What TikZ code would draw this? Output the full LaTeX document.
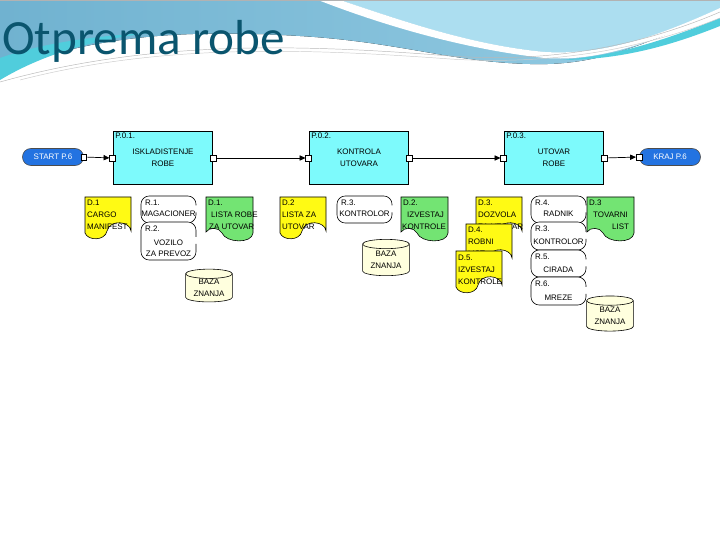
\documentclass[tikz,border=0pt]{standalone}
\usepackage{fontspec}
\setsansfont{Liberation Sans}
\newfontfamily\titlefont{Carlito}
\usetikzlibrary{arrows.meta,positioning,shapes.geometric,calc}
\definecolor{boxcyan}{RGB}{125,250,252}
\definecolor{termblue}{RGB}{35,115,225}
\definecolor{docyellow}{RGB}{255,250,20}
\definecolor{docgreen}{RGB}{115,228,115}
\definecolor{kbcream}{RGB}{255,255,222}
\definecolor{titleteal}{RGB}{10,85,110}
\definecolor{hdrblue}{RGB}{112,178,208}
\definecolor{hdrmid}{RGB}{150,205,228}
\definecolor{hdrlight}{RGB}{172,222,240}
\definecolor{hdrcyan}{RGB}{80,205,220}

\tikzset{
  txt/.style={font=\sffamily\fontsize{6.8}{10}\selectfont, inner sep=0pt},
  proc/.style={txt, draw=black, line width=0.9pt, fill=boxcyan, align=center,
               minimum width=85pt, minimum height=46pt},
  port/.style={draw=black, line width=0.5pt, fill=white, minimum size=5pt, inner sep=0pt},
  term/.style={txt, draw=black!70, line width=0.5pt, fill=termblue, text=white,
               rounded corners=7pt, minimum width=52pt, minimum height=14.5pt},
  flow/.style={-{Triangle[length=5pt,width=4.5pt]}, line width=0.6pt},
  kb/.style={txt, cylinder, shape border rotate=90, aspect=0.3, draw=black, line width=0.5pt,
             fill=kbcream, minimum width=40pt, align=center},
  pics/indoc/.style={code={
    \filldraw[fill=docyellow, draw=black, line width=0.5pt]
      (0,0) -- (46,0) -- (46,34) .. controls (45,24) and (25,22) .. (22,34)
      .. controls (20,44) and (3,44) .. (0,36) -- cycle;}},
  pics/outdoc/.style={code={
    \filldraw[fill=docgreen, draw=black, line width=0.5pt]
      (0,0) -- (47,0) -- (47,36) .. controls (46,47) and (20,46) .. (16,36)
      .. controls (13,30) and (3,30) .. (0,35) -- cycle;}},
  pics/resbox/.style={code={
    \fill[white, rounded corners=7] (0,0) rectangle (55,#1);
    \draw[line width=0.5pt, rounded corners=7]
      (55,#1/2-4) -- (55,0) -- (0,0) -- (0,#1) -- (55,#1) -- (55,#1/2+3);}},
}

\begin{document}
\begin{tikzpicture}[x=0.03cm, y=-0.03cm]
\useasboundingbox (0,0) rectangle (720,540);
\fill[white] (0,0) rectangle (720,540);

% --- header waves ---
\fill[left color=hdrblue, right color=hdrmid]
  (0,0) -- (720,0) -- (720,12) .. controls (640,45) and (600,66) .. (530,64)
  .. controls (450,62) and (400,42) .. (300,36) .. controls (200,30) and (90,32) .. (0,74) -- cycle;
\fill[hdrlight] (340,0) -- (720,0) -- (720,8) .. controls (650,40) and (600,55) .. (545,52)
  .. controls (470,45) and (400,20) .. (340,0) -- cycle;
\fill[white] (318,0) .. controls (390,28) and (470,50) .. (545,58) .. controls (600,62) and (650,42) .. (720,14)
  -- (720,8) .. controls (650,40) and (600,55) .. (545,52) .. controls (470,45) and (400,20) .. (340,0) -- cycle;
\fill[hdrcyan] (0,58) .. controls (40,44) and (90,36) .. (150,33) .. controls (90,40) and (40,56) .. (0,80) -- cycle;
\fill[hdrcyan] (560,60) .. controls (620,56) and (670,38) .. (720,18) -- (720,26) .. controls (670,46) and (620,60) .. (560,60) -- cycle;
\draw[gray!55, line width=0.4pt] (0,82) .. controls (150,40) and (300,44) .. (450,56) .. controls (560,64) and (650,42) .. (720,12);
\draw[gray!40, line width=0.4pt] (20,80) .. controls (160,44) and (300,48) .. (450,59) .. controls (560,66) and (650,46) .. (720,18);
\draw[gray!60, line width=0.6pt] (0,0) -- (720,0);

\node[font=\titlefont\fontsize{42}{42}\selectfont, text=titleteal, anchor=base west, inner sep=0pt]
  (title) at (2,55) {Otprema robe};

% --- process row ---
\node[term] (start) at (53,157) {START P.6};
\node[port] (startout) at (start.east) {};
\node[proc] (p1) at (163,158) {ISKLADISTENJE\\ROBE};
\node[proc] (p2) at (359,158) {KONTROLA\\UTOVARA};
\node[proc] (p3) at (554,158) {UTOVAR\\ROBE};
\node[txt, anchor=north west] (p1id) at ([shift={(2pt,-2pt)}]p1.north west) {P.0.1.};
\node[txt, anchor=north west] (p2id) at ([shift={(2pt,-2pt)}]p2.north west) {P.0.2.};
\node[txt, anchor=north west] (p3id) at ([shift={(2pt,-2pt)}]p3.north west) {P.0.3.};
\node[term] (kraj) at (670,157) {KRAJ P.6};
\node[port] (krajin) at (kraj.west) {};
\foreach \p in {p1,p2,p3} {
  \node[port] (\p in) at (\p.west) {};
  \node[port] (\p out) at (\p.east) {};
}
\draw[flow] (startout) -- (p1in);
\draw[flow] (p1out) -- (p2in);
\draw[flow] (p2out) -- (p3in);
\draw[flow] (p3out) -- (krajin);

% --- P.0.1 inputs, resources, outputs ---
\pic at (85,197) {indoc};
\node[txt, anchor=west] (d1a) at (87,203) {D.1};
\node[txt, anchor=west] (d1b) at (87,215) {CARGO};
\node[txt, anchor=west] (d1c) at (87,227) {MANIFEST};
\pic at (141,196) {resbox=27};
\node[txt, anchor=west] (r1a) at (145,203) {R.1.};
\node[txt] (r1b) at (168.5,214) {MAGACIONER};
\pic at (141,222) {resbox=38};
\node[txt, anchor=west] (r2a) at (145,229) {R.2.};
\node[txt] (r2b) at (168.5,243) {VOZILO};
\node[txt] (r2c) at (168.5,254) {ZA PREVOZ};
\pic at (206,197) {outdoc};
\node[txt, anchor=west] (o1a) at (208,203) {D.1.};
\node[txt, anchor=west] (o1b) at (211,215) {LISTA ROBE};
\node[txt, anchor=west] (o1c) at (209,227) {ZA UTOVAR};
\node[kb, minimum height=28pt] (kb1) at (209,288) {BAZA\\ZNANJA};

% --- P.0.2 ---
\pic at (280,197) {indoc};
\node[txt, anchor=west] (d2a) at (282,203) {D.2};
\node[txt, anchor=west] (d2b) at (282,215) {LISTA ZA};
\node[txt, anchor=west] (d2c) at (282,227) {UTOVAR};
\pic at (337,196) {resbox=27};
\node[txt, anchor=west] (r3a) at (341,203) {R.3.};
\node[txt] (r3b) at (364.5,214) {KONTROLOR};
\pic at (401,197) {outdoc};
\node[txt, anchor=west] (o2a) at (403,203) {D.2.};
\node[txt, anchor=west] (o2b) at (407,215) {IZVESTAJ};
\node[txt, anchor=west] (o2c) at (402,227) {KONTROLE};
\node[kb, minimum height=31pt] (kb2) at (386,260) {BAZA\\ZNANJA};

% --- P.0.3 ---
\pic at (476,197) {indoc};
\node[txt, anchor=west] (d3a) at (478,203) {D.3.};
\node[txt, anchor=west] (d3b) at (478,215) {DOZVOLA};
\node[txt, anchor=west] (d3c) at (478,227) {ZA UTOVAR};
\pic at (466,224) {indoc};
\node[txt, anchor=west] (d4a) at (468,230) {D.4.};
\node[txt, anchor=west] (d4b) at (468,242) {ROBNI};
\node[txt, anchor=west] (d4c) at (468,254) {LIST};
\pic at (456,251) {indoc};
\node[txt, anchor=west] (d5a) at (458,258) {D.5.};
\node[txt, anchor=west] (d5b) at (458,270) {IZVESTAJ};
\node[txt, anchor=west] (d5c) at (458,282) {KONTROLE};
\pic at (531,196) {resbox=27};
\node[txt, anchor=west] (r4a) at (535,203) {R.4.};
\node[txt] (r4b) at (558.5,214) {RADNIK};
\pic at (531,222) {resbox=28};
\node[txt, anchor=west] (r5a) at (535,229) {R.3.};
\node[txt] (r5b) at (558.5,242) {KONTROLOR};
\pic at (531,250) {resbox=27};
\node[txt, anchor=west] (r6a) at (535,257) {R.5.};
\node[txt] (r6b) at (558.5,270) {CIRADA};
\pic at (531,277) {resbox=28};
\node[txt, anchor=west] (r7a) at (535,284) {R.6.};
\node[txt] (r7b) at (558.5,298) {MREZE};
\pic at (587,197) {outdoc};
\node[txt, anchor=west] (o3a) at (589,203) {D.3};
\node[txt, anchor=west] (o3b) at (593,215) {TOVARNI};
\node[txt, anchor=west] (o3c) at (612,227) {LIST};
\node[kb, minimum height=30pt] (kb3) at (610,316) {BAZA\\ZNANJA};

\end{tikzpicture}
\end{document}
